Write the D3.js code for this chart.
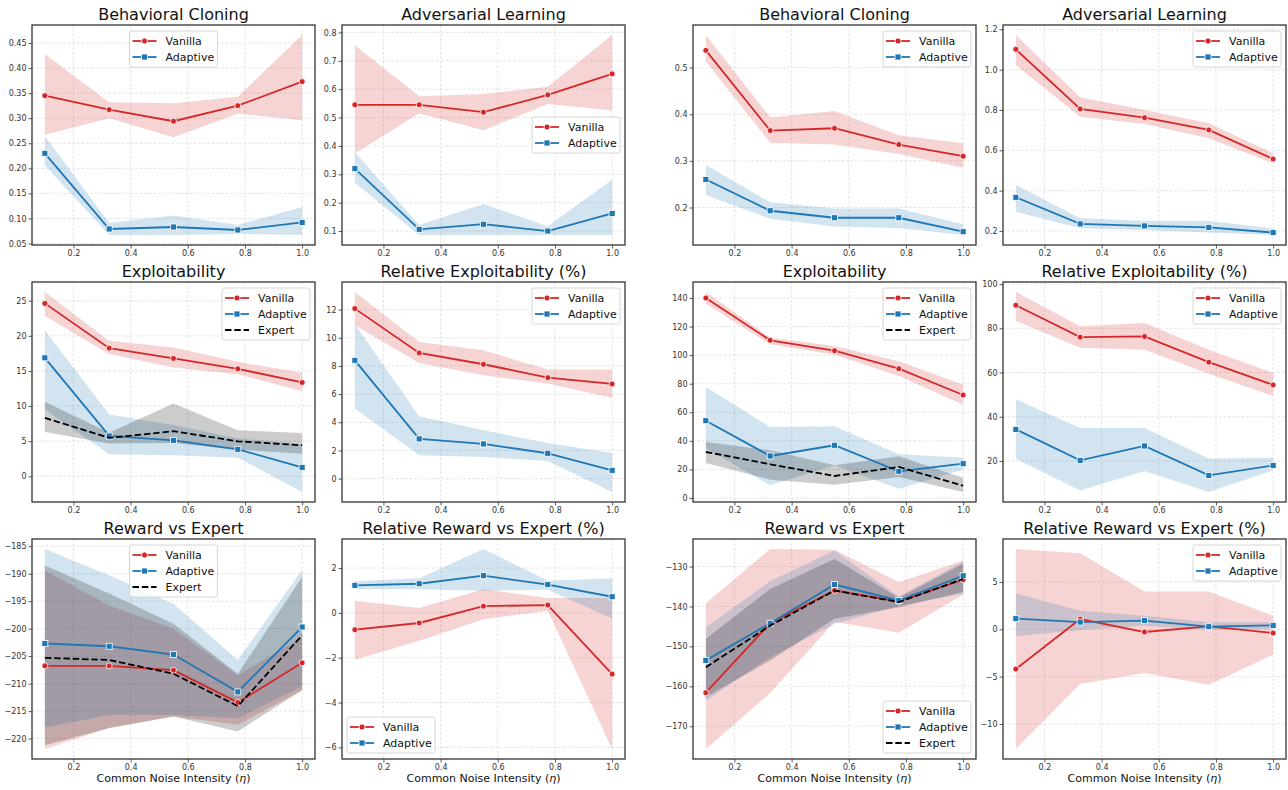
<!DOCTYPE html>
<html>
<head>
<meta charset="utf-8">
<script src="https://cdn.jsdelivr.net/npm/d3@7"></script>
<style>
body { margin: 0; background: #fff; }
text { font-family: "DejaVu Sans", sans-serif; }
</style>
</head>
<body>
<svg id="chart" width="1288" height="790"></svg>
<script>
// noise levels (x) and x tick labels
const noise = [0.1, 0.325, 0.55, 0.775, 1.0];
const xTicks = [0.2, 0.4, 0.6, 0.8, 1.0];

// every series: [lo, mean, hi] per noise level
const bcLeftVanilla = [[0.267, 0.345, 0.428], [0.300, 0.317, 0.332], [0.262, 0.294, 0.330], [0.309, 0.325, 0.343], [0.296, 0.373, 0.466]];
const bcLeftAdaptive = [[0.206, 0.230, 0.264], [0.067, 0.079, 0.091], [0.067, 0.083, 0.106], [0.069, 0.077, 0.087], [0.067, 0.092, 0.123]];

const alLeftVanilla = [[0.373, 0.545, 0.755], [0.515, 0.545, 0.575], [0.455, 0.519, 0.583], [0.548, 0.580, 0.609], [0.525, 0.654, 0.791]];
const alLeftAdaptive = [[0.270, 0.320, 0.378], [0.086, 0.106, 0.121], [0.086, 0.124, 0.195], [0.086, 0.100, 0.117], [0.086, 0.162, 0.281]];

const bcRightVanilla = [[0.513, 0.537, 0.570], [0.339, 0.365, 0.393], [0.335, 0.370, 0.407], [0.315, 0.335, 0.355], [0.285, 0.310, 0.338]];
const bcRightAdaptive = [[0.227, 0.260, 0.291], [0.176, 0.193, 0.211], [0.159, 0.178, 0.198], [0.156, 0.178, 0.198], [0.141, 0.148, 0.164]];

const alRightVanilla = [[1.023, 1.101, 1.172], [0.767, 0.805, 0.863], [0.731, 0.762, 0.800], [0.660, 0.701, 0.734], [0.535, 0.557, 0.585]];
const alRightAdaptive = [[0.296, 0.367, 0.428], [0.213, 0.235, 0.263], [0.205, 0.225, 0.251], [0.192, 0.218, 0.250], [0.180, 0.192, 0.213]];

const exLeftVanilla = [[22.81, 24.62, 26.24], [17.40, 18.25, 19.30], [15.49, 16.78, 18.35], [14.54, 15.30, 16.30], [12.12, 13.36, 14.73]];
const exLeftAdaptive = [[9.5, 16.87, 20.8], [3.14, 5.75, 8.79], [3.0, 5.13, 7.3], [2.66, 3.85, 5.4], [-2.23, 1.28, 4.6]];
const exLeftExpert = [[6.32, 8.32, 10.6], [4.66, 5.47, 6.2], [4.75, 6.42, 10.36], [3.80, 4.99, 6.56], [3.23, 4.42, 6.18]];

const relExLeftVanilla = [[10.89, 12.07, 13.25], [8.21, 8.92, 9.70], [7.34, 8.12, 9.11], [6.75, 7.17, 7.74], [5.73, 6.72, 7.74]];
const relExLeftAdaptive = [[4.97, 8.40, 10.96], [1.66, 2.82, 4.43], [1.54, 2.46, 3.43], [1.25, 1.80, 2.53], [-0.95, 0.59, 1.82]];

const exRightVanilla = [[136.0, 140.0, 144.2], [107.6, 110.4, 112.2], [100.3, 103.1, 106.4], [85.4, 90.5, 95.7], [65.3, 72.1, 79.3]];
const exRightAdaptive = [[35, 54.1, 77.7], [8.9, 29.4, 49.7], [22.9, 36.9, 50.2], [6.5, 18.7, 30.6], [20, 24.0, 28.2]];
const exRightExpert = [[24.5, 32.2, 39.2], [12.8, 23.6, 33.4], [9.3, 15.4, 22.9], [14.7, 21.7, 29.2], [4.2, 8.6, 14.2]];

const relExRightVanilla = [[83.3, 90.4, 96.4], [71.2, 76.0, 80.9], [70.3, 76.3, 82.4], [59.5, 64.7, 70.3], [49.4, 54.4, 59.8]];
const relExRightAdaptive = [[21.1, 34.3, 47.9], [6.7, 20.3, 34.9], [15.5, 26.8, 34.9], [6.0, 13.5, 21.1], [15.8, 18.0, 21.5]];

const rwLeftVanilla = [[-221.9, -206.77, -189.4], [-218.1, -206.77, -195.8], [-216.0, -207.55, -200.0], [-217.5, -213.42, -208.5], [-211.2, -206.22, -201.5]];
const rwLeftAdaptive = [[-218.0, -202.7, -185.5], [-215.7, -203.2, -190.3], [-215.7, -204.7, -195.5], [-216.3, -211.5, -205.7], [-210.5, -199.7, -189.3]];
const rwLeftExpert = [[-221.2, -205.3, -188.5], [-218.1, -205.7, -193.6], [-216.0, -208.2, -199.1], [-218.7, -214.1, -208.2], [-211.2, -201.2, -190.6]];

const relRwLeftVanilla = [[-2.09, -0.75, 0.54], [-1.24, -0.45, 0.22], [-0.28, 0.30, 1.06], [0.10, 0.35, 0.66], [-6.07, -2.73, 0.66]];
const relRwLeftAdaptive = [[1.06, 1.23, 1.41], [1.06, 1.30, 1.55], [0.99, 1.66, 2.85], [1.03, 1.26, 1.43], [-0.25, 0.72, 1.55]];

const rwRightVanilla = [[-175.7, -161.6, -139.2], [-161.7, -144.2, -125.6], [-143.8, -136.0, -125.8], [-146.6, -138.7, -133.9], [-137.0, -133.3, -128.5]];
const rwRightAdaptive = [[-163.6, -153.5, -145.2], [-152.7, -144.2, -133.7], [-144.4, -134.5, -126.0], [-139.8, -138.5, -137.5], [-136.8, -132.3, -128.7]];
const rwRightExpert = [[-162.7, -155.2, -148.1], [-153.5, -144.8, -135.6], [-143.1, -136.0, -128.1], [-140.2, -138.9, -137.8], [-136.4, -133.1, -129.3]];

const relRwRightVanilla = [[-12.64, -4.19, 8.49], [-5.77, 1.09, 8.03], [-4.61, -0.28, 4.01], [-5.85, 0.32, 4.01], [-2.68, -0.39, 1.44]];
const relRwRightAdaptive = [[-0.74, 1.13, 3.80], [-0.07, 0.77, 1.97], [0.39, 0.92, 1.44], [-0.07, 0.28, 0.74], [0.04, 0.42, 0.74]];

// y tick labels per panel
const ticksBcLeft = [0.05, 0.10, 0.15, 0.20, 0.25, 0.30, 0.35, 0.40, 0.45];
const ticksAlLeft = [0.1, 0.2, 0.3, 0.4, 0.5, 0.6, 0.7, 0.8];
const ticksBcRight = [0.2, 0.3, 0.4, 0.5];
const ticksAlRight = [0.2, 0.4, 0.6, 0.8, 1.0, 1.2];
const ticksExLeft = [0, 5, 10, 15, 20, 25];
const ticksRelExLeft = [0, 2, 4, 6, 8, 10, 12];
const ticksExRight = [0, 20, 40, 60, 80, 100, 120, 140];
const ticksRelExRight = [20, 40, 60, 80, 100];
const ticksRwLeft = [-220, -215, -210, -205, -200, -195, -190, -185];
const ticksRelRwLeft = [-6, -4, -2, 0, 2];
const ticksRwRight = [-170, -160, -150, -140, -130];
const ticksRelRwRight = [-10, -5, 0, 5];

const titles = ["Behavioral Cloning", "Adversarial Learning", "Exploitability",
    "Relative Exploitability (%)", "Reward vs Expert", "Relative Reward vs Expert (%)"];

const VAN = {name: "Vanilla", color: "#d62728", marker: "circle"};
const ADA = {name: "Adaptive", color: "#1f77b4", marker: "square"};
const EXP = {name: "Expert", color: "#000000", marker: null};

const panels = [
    {col: 0, row: 0, title: titles[0], ticks: ticksBcLeft, fmt: ".2f", legend: "upper center", series: [[VAN, bcLeftVanilla], [ADA, bcLeftAdaptive]]},
    {col: 1, row: 0, title: titles[1], ticks: ticksAlLeft, fmt: ".1f", legend: "center right", series: [[VAN, alLeftVanilla], [ADA, alLeftAdaptive]]},
    {col: 2, row: 0, title: titles[0], ticks: ticksBcRight, fmt: ".1f", legend: "upper right", series: [[VAN, bcRightVanilla], [ADA, bcRightAdaptive]]},
    {col: 3, row: 0, title: titles[1], ticks: ticksAlRight, fmt: ".1f", legend: "upper right", series: [[VAN, alRightVanilla], [ADA, alRightAdaptive]]},
    {col: 0, row: 1, title: titles[2], ticks: ticksExLeft, fmt: "d", legend: "upper right", series: [[VAN, exLeftVanilla], [ADA, exLeftAdaptive], [EXP, exLeftExpert]]},
    {col: 1, row: 1, title: titles[3], ticks: ticksRelExLeft, fmt: "d", legend: "upper right", series: [[VAN, relExLeftVanilla], [ADA, relExLeftAdaptive]]},
    {col: 2, row: 1, title: titles[2], ticks: ticksExRight, fmt: "d", legend: "upper right", series: [[VAN, exRightVanilla], [ADA, exRightAdaptive], [EXP, exRightExpert]]},
    {col: 3, row: 1, title: titles[3], ticks: ticksRelExRight, fmt: "d", legend: "upper right", series: [[VAN, relExRightVanilla], [ADA, relExRightAdaptive]]},
    {col: 0, row: 2, title: titles[4], ticks: ticksRwLeft, fmt: "d", legend: "upper center", series: [[VAN, rwLeftVanilla], [ADA, rwLeftAdaptive], [EXP, rwLeftExpert]]},
    {col: 1, row: 2, title: titles[5], ticks: ticksRelRwLeft, fmt: "d", legend: "lower left", series: [[VAN, relRwLeftVanilla], [ADA, relRwLeftAdaptive]]},
    {col: 2, row: 2, title: titles[4], ticks: ticksRwRight, fmt: "d", legend: "lower right", series: [[VAN, rwRightVanilla], [ADA, rwRightAdaptive], [EXP, rwRightExpert]]},
    {col: 3, row: 2, title: titles[5], ticks: ticksRelRwRight, fmt: "d", legend: "upper right", series: [[VAN, relRwRightVanilla], [ADA, relRwRightAdaptive]]}
];

const colX = [32, 342, 693, 1003];
const rowY = [25, 282, 539];
const W = 283, H = 220;
const LW = 1.8;

const svg = d3.select("#chart");

function drawMarker(sel, kind, color, cx, cy) {
    if (kind === "circle") {
        sel.append("circle").attr("cx", cx).attr("cy", cy).attr("r", 3)
            .attr("fill", color).attr("stroke", "#fff").attr("stroke-width", 0.8);
    } else if (kind === "square") {
        sel.append("rect").attr("x", cx - 3).attr("y", cy - 3)
            .attr("width", 6).attr("height", 6)
            .attr("fill", color).attr("stroke", "#fff").attr("stroke-width", 0.8);
    }
}

function drawPanel(p) {
    const g = svg.append("g").attr("transform", `translate(${colX[p.col]},${rowY[p.row]})`);

    const [x0, x1] = d3.extent(noise);
    const xm = (x1 - x0) * 0.05;
    const x = d3.scaleLinear().domain([x0 - xm, x1 + xm]).range([0, W]);

    const all = p.series.flatMap(([, d]) => d.flatMap(v => [v[0], v[2]]));
    const lo = d3.min(all), hi = d3.max(all), ym = (hi - lo) * 0.05;
    const y = d3.scaleLinear().domain([lo - ym, hi + ym]).range([H, 0]);

    // grid
    const grid = g.append("g").attr("stroke", "#d6d6d6").attr("stroke-width", 0.7)
        .attr("stroke-dasharray", "2.5,2");
    grid.selectAll(".gx").data(xTicks).join("line")
        .attr("x1", d => x(d)).attr("x2", d => x(d)).attr("y1", 0).attr("y2", H);
    grid.selectAll(".gy").data(p.ticks).join("line")
        .attr("x1", 0).attr("x2", W).attr("y1", d => y(d)).attr("y2", d => y(d));

    // bands
    const area = d3.area().x((d, i) => x(noise[i])).y0(d => y(d[0])).y1(d => y(d[2]));
    p.series.forEach(([s, d]) => {
        g.append("path").attr("d", area(d)).attr("fill", s.color).attr("fill-opacity", 0.2);
    });

    // lines + markers
    const line = d3.line().x((d, i) => x(noise[i])).y(d => y(d[1]));
    p.series.forEach(([s, d]) => {
        g.append("path").attr("d", line(d)).attr("fill", "none").attr("stroke", s.color)
            .attr("stroke-width", LW)
            .attr("stroke-dasharray", s.marker ? null : "6.5,2.8");
        if (s.marker) {
            const mg = g.append("g");
            d.forEach((v, i) => drawMarker(mg, s.marker, s.color, x(noise[i]), y(v[1])));
        }
    });

    // spines
    g.append("rect").attr("width", W).attr("height", H).attr("fill", "none")
        .attr("stroke", "#333").attr("stroke-width", 1.3);

    // axes
    const ax = g.append("g").attr("transform", `translate(0,${H})`)
        .call(d3.axisBottom(x).tickValues(xTicks).tickFormat(d3.format(".1f")).tickSize(3.5).tickPadding(2));
    const ay = g.append("g")
        .call(d3.axisLeft(y).tickValues(p.ticks).tickFormat(d3.format(p.fmt)).tickSize(3.5).tickPadding(2));
    [ax, ay].forEach(a => {
        a.select(".domain").remove();
        a.selectAll("line").attr("stroke", "#333").attr("stroke-width", 0.8);
        a.selectAll("text").attr("fill", "#333").attr("font-size", 8)
            .attr("font-family", "DejaVu Sans, sans-serif");
    });

    // title
    g.append("text").attr("x", W / 2).attr("y", -5).attr("text-anchor", "middle")
        .attr("font-size", 16).attr("fill", "#111").text(p.title);

    // x label on the bottom row
    if (p.row === 2) {
        const t = g.append("text").attr("x", W / 2).attr("y", H + 23).attr("text-anchor", "middle")
            .attr("font-size", 11).attr("fill", "#111");
        t.append("tspan").text("Common Noise Intensity (");
        t.append("tspan").attr("font-style", "italic").text("η");
        t.append("tspan").text(")");
    }

    drawLegend(g, p);
}

function drawLegend(g, p) {
    const n = p.series.length;
    const bw = 88, bh = 16 * n + 4;
    let lx, ly;
    if (p.legend === "upper right") { lx = W - 5 - bw; ly = 6; }
    else if (p.legend === "upper center") { lx = (W - bw) / 2; ly = 6; }
    else if (p.legend === "center right") { lx = W - 5 - bw; ly = (H - bh) / 2; }
    else if (p.legend === "lower left") { lx = 5; ly = H - 6 - bh; }
    else { lx = W - 5 - bw; ly = H - 6 - bh; }

    const lg = g.append("g").attr("transform", `translate(${lx},${ly})`);
    lg.append("rect").attr("width", bw).attr("height", bh).attr("rx", 2.5)
        .attr("fill", "#fff").attr("fill-opacity", 0.8).attr("stroke", "#ccc").attr("stroke-width", 0.8);
    p.series.forEach(([s], i) => {
        const cy = 10 + 16 * i;
        lg.append("line").attr("x1", 3).attr("x2", 27).attr("y1", cy).attr("y2", cy)
            .attr("stroke", s.color).attr("stroke-width", LW)
            .attr("stroke-dasharray", s.marker ? null : "6.5,2.8");
        if (s.marker) drawMarker(lg, s.marker, s.color, 15, cy);
        lg.append("text").attr("x", 36).attr("y", cy).attr("dy", "0.35em")
            .attr("font-size", 11).attr("fill", "#111").text(s.name);
    });
}

panels.forEach(drawPanel);
</script>
</body>
</html>
